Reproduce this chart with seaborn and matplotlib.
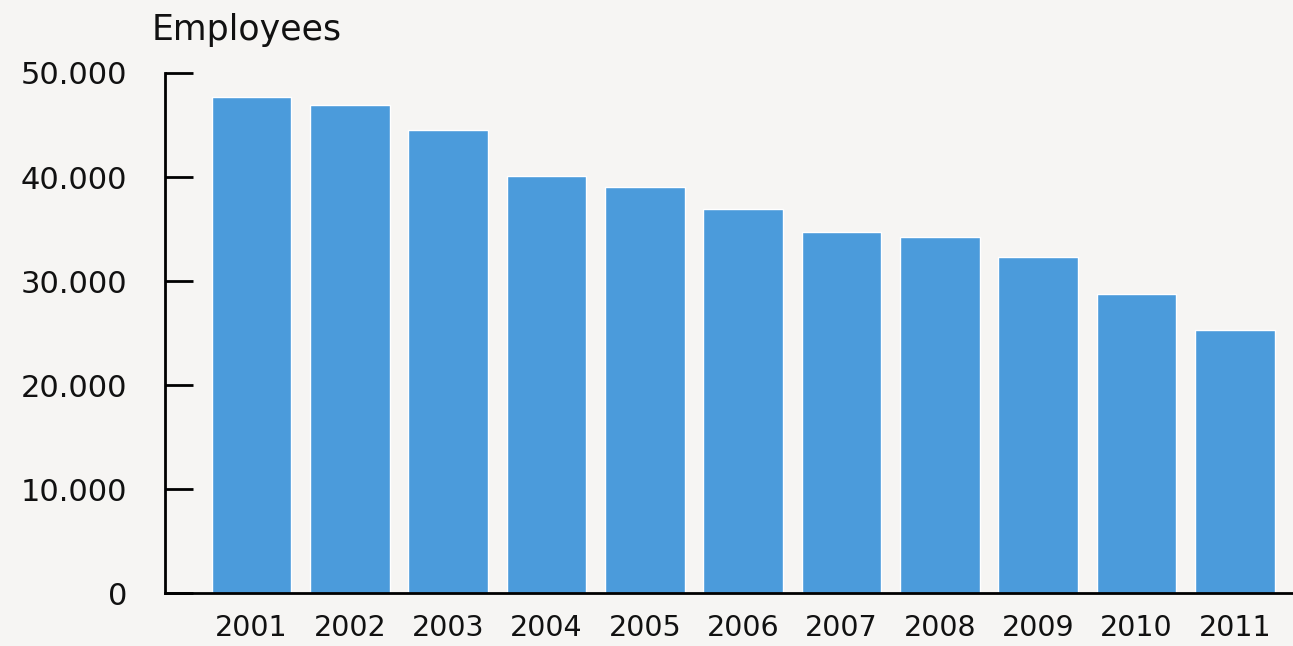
import matplotlib
matplotlib.use("Agg")
import matplotlib.pyplot as plt
import seaborn as sns
import pandas as pd
from matplotlib.ticker import FuncFormatter

years = ["2001", "2002", "2003", "2004", "2005", "2006", "2007", "2008", "2009", "2010", "2011"]
employees = [47660, 46890, 44520, 40130, 39010, 36920, 34680, 34200, 32280, 28720, 25260]
yticks = [0, 10000, 20000, 30000, 40000, 50000]

sns.set_theme(style="white")
plt.rcParams['font.family'] = ['DejaVu Sans']

bg = "#f6f5f3"
fig = plt.figure(figsize=(12.93, 6.46), dpi=100, facecolor=bg)
ax = fig.add_axes([0.1276, 0.082, 0.8724, 0.805], facecolor=bg)

df = pd.DataFrame({"year": years, "employees": employees})
sns.barplot(data=df, x="year", y="employees", color="#4b9bdb", saturation=1,
            width=0.81, ax=ax)

ax.set_xlim(-0.88, 10.59)
ax.set_ylim(0, 50000)
ax.set_yticks(yticks)
ax.yaxis.set_major_formatter(FuncFormatter(lambda v, p: f"{int(v):,}".replace(",", ".")))
ax.set_xlabel("")
ax.set_ylabel("")

for s in ["top", "right"]:
    ax.spines[s].set_visible(False)
for s in ["left", "bottom"]:
    ax.spines[s].set_color("black")
    ax.spines[s].set_linewidth(2)

ax.tick_params(axis="y", direction="in", length=20, width=2, color="black",
               pad=27, labelsize=22, labelcolor="#111111", left=True)
ax.tick_params(axis="x", length=0, pad=15, labelsize=20.5, labelcolor="#111111")

fig.text(152 / 1293, 1 - 30 / 646, "Employees", fontsize=25, color="#111111",
         ha="left", va="center")

fig.savefig("out.png", dpi=100, facecolor=bg)
